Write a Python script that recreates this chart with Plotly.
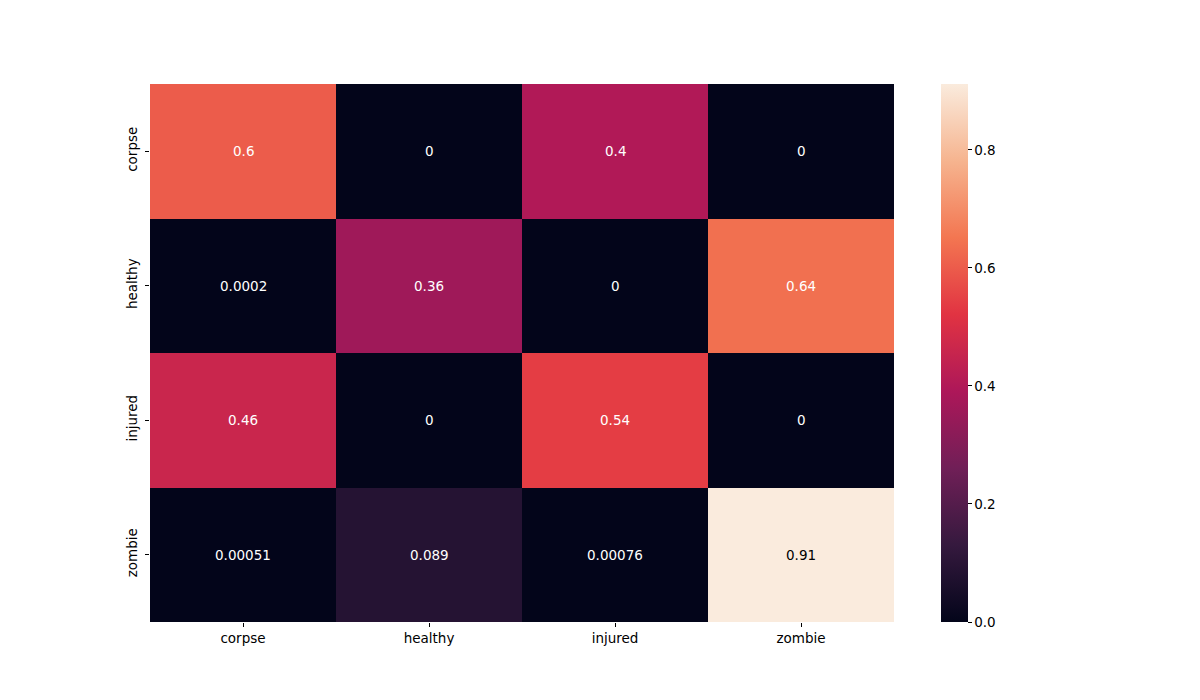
import plotly.graph_objects as go

categories = ["corpse", "healthy", "injured", "zombie"]
values = [
    [0.6, 0.0, 0.4, 0.0],
    [0.0002, 0.36, 0.0, 0.64],
    [0.46, 0.0, 0.54, 0.0],
    [0.00051, 0.089, 0.00076, 0.9115],
]
labels = [
    ["0.6", "0", "0.4", "0"],
    ["0.0002", "0.36", "0", "0.64"],
    ["0.46", "0", "0.54", "0"],
    ["0.00051", "0.089", "0.00076", "0.91"],
]
cbar_ticks = [0.0, 0.2, 0.4, 0.6, 0.8]

rocket = [
    [0.0, "#03051a"],
    [1/7, "#35193e"],
    [2/7, "#701f57"],
    [3/7, "#ad1759"],
    [4/7, "#e13342"],
    [5/7, "#f37651"],
    [6/7, "#f6b48f"],
    [1.0, "#faebdd"],
]

zmax = max(max(r) for r in values)

fig = go.Figure()
fig.add_trace(go.Heatmap(
    z=values, x=categories, y=categories,
    colorscale=rocket, zmin=0, zmax=zmax,
    xgap=0, ygap=0,
    colorbar=dict(
        x=1.0632, xanchor="left", y=0, yanchor="bottom", len=1, lenmode="fraction",
        thickness=27, thicknessmode="pixels", outlinewidth=0,
        tickvals=cbar_ticks, ticktext=[f"{t:.1f}" for t in cbar_ticks],
        ticks="outside", ticklen=4, tickcolor="black",
        tickfont=dict(family="DejaVu Sans", size=13.5, color="black"),
        xpad=0, ypad=0,
    ),
    showscale=True,
))

# annotations from data
for i, row in enumerate(values):
    for j, v in enumerate(row):
        col = "black" if v / zmax > 0.85 else "white"
        fig.add_annotation(
            x=categories[j], y=categories[i], text=labels[i][j],
            showarrow=False, font=dict(family="DejaVu Sans", size=13.5, color=col),
        )

fig.update_layout(
    width=1200, height=700,
    margin=dict(l=150, r=306, t=84, b=78),
    paper_bgcolor="white", plot_bgcolor="white",
    xaxis=dict(ticks="outside", ticklen=4, tickcolor="black", showgrid=False, zeroline=False,
               tickfont=dict(family="DejaVu Sans", size=13.5, color="black"), showline=False),
    yaxis=dict(autorange="reversed", ticks="outside", ticklen=4, tickcolor="black", showgrid=False,
               zeroline=False, tickangle=-90, ticklabelstandoff=3,
               tickfont=dict(family="DejaVu Sans", size=13.5, color="black"), showline=False),
)

fig.write_html("out.html")
